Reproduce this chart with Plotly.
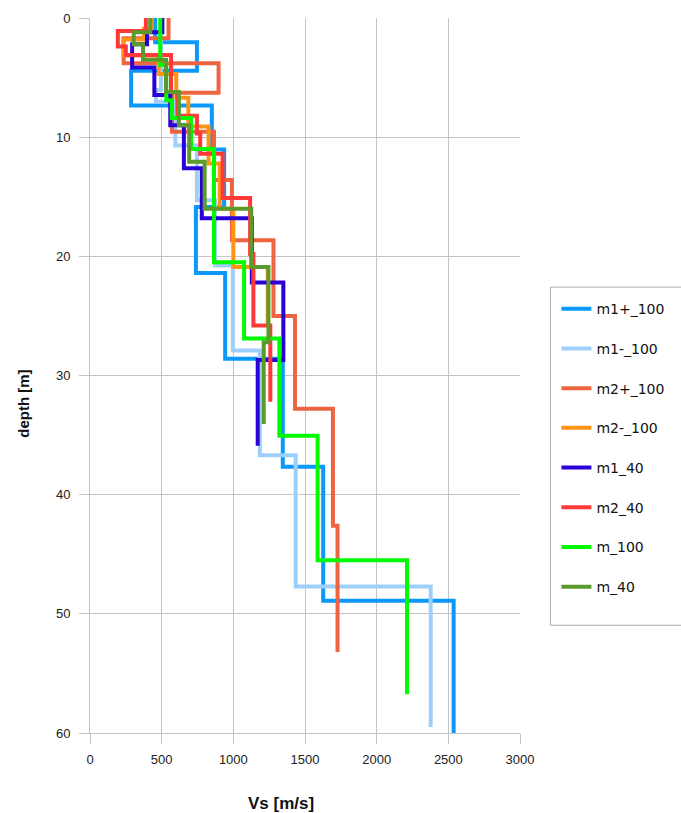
import plotly.graph_objects as go

# Layer tops/bottoms (m) and shear-wave velocity of each layer (m/s)
m1p_100_depth = [0, 2.04, 4.43, 7.35, 11.03, 15.86, 21.4, 28.6, 37.65, 48.9, 60.0]
m1p_100_vs = [455, 746, 287, 850, 936, 739, 943, 1345, 1627, 2537]

m1m_100_depth = [0, 6.05, 7.05, 10.7, 15.3, 20.76, 27.9, 36.7, 47.7, 59.5]
m1m_100_vs = [495, 460, 595, 746, 873, 997, 1185, 1435, 2377]

m2p_100_depth = [0, 1.7, 3.8, 6.27, 9.55, 13.6, 18.65, 25.0, 32.8, 42.6, 53.2]
m2p_100_vs = [548, 235, 897, 572, 865, 990, 1280, 1430, 1695, 1727]

m2m_100_depth = [0, 0.9, 1.8, 3.15, 4.7, 6.7, 9.1, 12.2, 16.0, 20.9, 25.9]
m2m_100_vs = [430, 377, 233, 479, 602, 686, 827, 905, 1000, 1240]

m1_40_depth = [0, 1.2, 2.2, 4.15, 6.47, 9.0, 12.6, 16.8, 22.2, 28.7, 35.9]
m1_40_vs = [505, 398, 294, 449, 560, 655, 780, 1129, 1349, 1170]

m2_40_depth = [0, 1.1, 2.4, 3.1, 6.2, 8.2, 9.7, 11.4, 15.1, 19.8, 25.8, 32.2]
m2_40_vs = [390, 194, 250, 565, 610, 746, 769, 925, 1117, 1140, 1258]

m_100_depth = [0, 3.95, 6.9, 8.4, 11.0, 20.5, 26.9, 35.05, 45.5, 56.75]
m_100_vs = [490, 532, 570, 705, 865, 1075, 1321, 1588, 2212]

m_40_depth = [0, 1.2, 2.2, 3.5, 6.2, 9.0, 12.07, 16.0, 20.9, 27.2, 34.06]
m_40_vs = [420, 305, 370, 530, 620, 692, 800, 1125, 1245, 1212]

series = [
    ("m1+_100", m1p_100_depth, m1p_100_vs, "#0A99FA"),
    ("m1-_100", m1m_100_depth, m1m_100_vs, "#9ECFFB"),
    ("m2+_100", m2p_100_depth, m2p_100_vs, "#EE6441"),
    ("m2-_100", m2m_100_depth, m2m_100_vs, "#FF9414"),
    ("m1_40", m1_40_depth, m1_40_vs, "#2A00D8"),
    ("m2_40", m2_40_depth, m2_40_vs, "#FF3838"),
    ("m_100", m_100_depth, m_100_vs, "#00FA00"),
    ("m_40", m_40_depth, m_40_vs, "#5B9B2C"),
]


def step_profile(depths, vs):
    """Expand layered model into a staircase: each layer is a vertical segment."""
    xs, ys = [], []
    for i, v in enumerate(vs):
        xs += [v, v]
        ys += [depths[i], depths[i + 1]]
    return xs, ys


fig = go.Figure()
for i, (name, d, v, color) in enumerate(series):
    xs, ys = step_profile(d, v)
    fig.add_trace(go.Scatter(
        x=xs, y=ys, mode="lines", name=name,
        line=dict(color=color, width=4),
        legendgroup=f"g{i}",
    ))

grid = "#C4C4C4"
fig.update_layout(
    width=681, height=813,
    margin=dict(l=89.5, r=160.5, t=18, b=80.3),
    paper_bgcolor="white", plot_bgcolor="white",
    font=dict(family="Liberation Sans, Arial, sans-serif", size=13, color="#222"),
    xaxis=dict(
        range=[0, 3000], tickvals=[0, 500, 1000, 1500, 2000, 2500, 3000],
        showgrid=True, gridcolor=grid, gridwidth=1,
        ticks="outside", ticklen=10, tickcolor=grid,
        showline=True, linecolor=grid, linewidth=1,
        zeroline=False, ticklabelstandoff=4,
    ),
    yaxis=dict(
        range=[60, 0], tickvals=[0, 10, 20, 30, 40, 50, 60],
        showgrid=True, gridcolor=grid, gridwidth=1,
        ticks="outside", ticklen=10, tickcolor=grid,
        showline=True, linecolor=grid, linewidth=1,
        zeroline=False, ticklabelstandoff=6,
    ),
    legend=dict(
        x=1.0847, y=0.6152, xanchor="left", yanchor="top",
        borderwidth=0, bgcolor="rgba(0,0,0,0)",
        font=dict(family="DejaVu Sans, sans-serif", size=14, color="#111"),
        tracegroupgap=18.5,
    ),
    # legend frame
    shapes=[dict(type="rect", xref="paper", yref="paper",
                 x0=1.0708, x1=1.45, y0=0.1507, y1=0.6236,
                 line=dict(color="#ABABAB", width=1), fillcolor="white", layer="below")],
    showlegend=True,
    annotations=[
        dict(text="<b>Vs [m/s]</b>", x=0.4443, y=-0.0984, xref="paper", yref="paper",
             showarrow=False, font=dict(size=17, color="#111"),
             xanchor="center", yanchor="middle"),
        dict(text="<b>depth [m]</b>", x=-0.1566, y=0.46, xref="paper", yref="paper",
             showarrow=False, textangle=-90, font=dict(size=15, color="#111"),
             xanchor="center", yanchor="middle"),
    ],
)

fig.write_html("out.html")
